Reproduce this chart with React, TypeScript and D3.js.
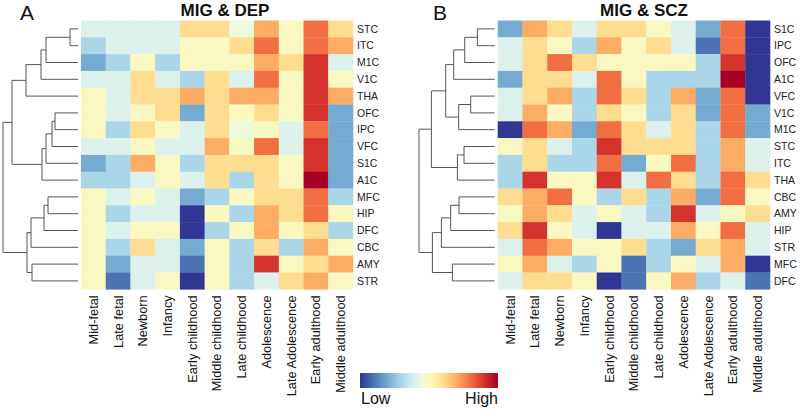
import * as d3 from "d3";

const stages = [
  "Mid-fetal",
  "Late fetal",
  "Newborn",
  "Infancy",
  "Early childhood",
  "Middle childhood",
  "Late childhood",
  "Adolescence",
  "Late Adolescence",
  "Early adulthood",
  "Middle adulthood",
];

// Panel A: MIG & DEP (values 0 = low ... 10 = high)
const regionsA = ["STC", "ITC", "M1C", "V1C", "THA", "OFC", "IPC", "VFC", "S1C", "A1C", "MFC", "HIP", "DFC", "CBC", "AMY", "STR"];
const valuesA = [
  [4, 4, 4, 4, 6, 6, 4.5, 7, 5, 8, 6],
  [3, 4, 4, 4, 5, 5, 6, 8, 5, 8, 7],
  [2, 3, 5, 3, 5, 5, 5, 7, 6, 9, 4],
  [4, 4, 6, 4, 3, 6, 4, 8, 5, 9, 5],
  [5, 4, 6, 6, 7, 6, 7, 7, 5, 9, 7],
  [5, 4, 5, 6, 2, 6, 5, 6, 5, 9, 2],
  [5, 3, 6, 5, 4, 6, 4.5, 5, 4, 8, 2],
  [4, 4, 5, 4, 4, 7, 5, 8, 4, 9, 2],
  [2, 3, 7, 5, 3, 6, 6, 6, 5, 9, 2],
  [3, 3, 4, 5, 4, 6, 3, 6, 5, 10, 2],
  [5, 4, 5, 4, 2, 3, 5, 6, 6, 8, 3],
  [5, 3, 4, 4, 0, 5, 3, 7, 6, 8, 5],
  [5, 4, 5, 5, 0, 3, 5, 7, 5, 6, 3],
  [5, 3, 6, 4, 2, 5, 3, 6, 3, 7, 5],
  [5, 2, 4, 4, 1, 5, 3, 9, 5, 6, 7],
  [5, 1, 4, 5, 0, 5, 3, 4, 6, 7, 5],
];
// [height, left, right]; a number is a leaf (row index)
const treeA = [75, [66, [52, [37, [32, [8, 0, 1], 2], 3], 4], [36, [32, [26, [23, 5, 6], 7], 8], 9]], [51, [47, [34, [30, 10, 11], 12], 13], [46, 14, 15]]];

// Panel B: MIG & SCZ
const regionsB = ["S1C", "IPC", "OFC", "A1C", "VFC", "V1C", "M1C", "STC", "ITC", "THA", "CBC", "AMY", "HIP", "STR", "MFC", "DFC"];
const valuesB = [
  [2, 7, 6, 4, 6, 6, 5, 4, 2, 8, 0],
  [4, 6, 5, 3, 7, 5, 6, 4, 1, 8, 0],
  [4, 6, 8, 6, 5, 5, 5, 5, 3, 9, 0],
  [2, 6, 6, 4, 8, 5, 3, 3, 3, 10, 0],
  [4, 6, 7, 3, 8, 6, 3, 7, 2, 8, 0],
  [4, 7, 5, 3, 6, 5, 3, 6, 2, 8, 2],
  [0, 8, 7, 2, 8, 6, 4, 6, 3, 8, 2],
  [5, 6, 4, 3, 9, 6, 6, 6, 3, 7, 4],
  [3, 6, 3, 3, 8, 2, 5, 8, 3, 7, 4],
  [3, 9, 5, 5, 9, 4, 8, 6, 3, 8, 6],
  [6, 7, 8, 5, 3, 6, 3, 7, 2, 8, 5],
  [5, 7, 6, 4, 5, 4, 3, 9, 4, 5, 6],
  [6, 9, 5, 4, 0, 4, 4, 7, 5, 8, 4],
  [4, 8, 7, 5, 5, 6, 3, 2, 6, 7, 4],
  [5, 7, 4, 3, 5, 1, 3, 5, 4, 7, 0],
  [4, 6, 6, 5, 0, 1, 5, 7, 3, 4, 1],
];
const treeB = [75.7, [63.3, [49, [41, [30, [17.3, 0, 1], 2], 3], [36, [24, 4, 5], 6]], [37.3, [30.7, 7, 8], 9]], [62.3, [53.3, [44, [35.7, 10, 11], 12], 13], [42.3, 14, 15]]];

const W = 800;
const H = 410;
const top = 20.5;
const bottom = 289.3;
const font = "'Liberation Sans', Arial, sans-serif";

const color = (v: number) => d3.interpolateRdYlBu(1 - v / 10);

type Seg = { x1: number; y1: number; x2: number; y2: number };

function Panel({
  letter,
  title,
  regions,
  values,
  tree,
  x0,
  x1,
  letterX,
  titleX,
}: {
  letter: string;
  title: string;
  regions: string[];
  values: number[][];
  tree: any;
  x0: number;
  x1: number;
  letterX: number;
  titleX: number;
}) {
  const xs = d3.scaleBand().domain(stages).range([x0, x1]);
  const ys = d3.scaleBand().domain(regions).range([top, bottom]);
  const leafX = x0 - 3;
  const hs = d3.scaleLinear().domain([0, 80]).range([leafX, leafX - 80]);

  // elbow dendrogram, parent sits halfway between its children
  const segs: Seg[] = [];
  const walk = (node: any): { x: number; y: number } => {
    if (typeof node === "number") {
      return { x: hs(0), y: (ys(regions[node]) as number) + ys.bandwidth() / 2 };
    }
    const [h, l, r] = node;
    const a = walk(l);
    const b = walk(r);
    const px = hs(h);
    segs.push({ x1: a.x, y1: a.y, x2: px, y2: a.y });
    segs.push({ x1: b.x, y1: b.y, x2: px, y2: b.y });
    segs.push({ x1: px, y1: a.y, x2: px, y2: b.y });
    return { x: px, y: (a.y + b.y) / 2 };
  };
  walk(tree);

  return (
    <g>
      <text x={letterX} y={20} fontSize={21} fontFamily={font} fill="#111">
        {letter}
      </text>
      <text x={titleX} y={16} fontSize={17} fontWeight="bold" textAnchor="middle" fontFamily={font} fill="#111">
        {title}
      </text>
      {segs.map((s, i) => (
        <line key={i} x1={s.x1} y1={s.y1} x2={s.x2} y2={s.y2} stroke="#555" strokeWidth={1} />
      ))}
      {values.map((row, ri) =>
        row.map((v, ci) => (
          <rect
            key={`${ri}-${ci}`}
            x={xs(stages[ci])}
            y={ys(regions[ri])}
            width={xs.bandwidth() + 0.3}
            height={ys.bandwidth() + 0.3}
            fill={color(v)}
          />
        ))
      )}
      {regions.map((r) => (
        <text
          key={r}
          x={x1 + 4}
          y={(ys(r) as number) + ys.bandwidth() / 2}
          dy="0.35em"
          fontSize={10.5}
          fontFamily={font}
          fill="#222"
        >
          {r}
        </text>
      ))}
      {stages.map((s) => {
        const cx = (xs(s) as number) + xs.bandwidth() / 2;
        const cy = bottom + 6;
        return (
          <text
            key={s}
            x={cx}
            y={cy}
            dy="0.35em"
            textAnchor="end"
            transform={`rotate(-90, ${cx}, ${cy})`}
            fontSize={12.8}
            fontFamily={font}
            fill="#111"
          >
            {s}
          </text>
        );
      })}
    </g>
  );
}

export default function App() {
  const legend = d3.range(0, 1.0001, 0.05);
  return (
    <svg width={W} height={H} style={{ position: "absolute", left: 0, top: 0, background: "#fff" }}>
      <defs>
        <linearGradient id="lg" x1="0" x2="1" y1="0" y2="0">
          {legend.map((t) => (
            <stop key={t} offset={t} stopColor={color(t * 10)} />
          ))}
        </linearGradient>
      </defs>
      <Panel letter="A" title="MIG & DEP" regions={regionsA} values={valuesA} tree={treeA} x0={81} x1={353} letterX={20} titleX={225} />
      <Panel letter="B" title="MIG & SCZ" regions={regionsB} values={valuesB} tree={treeB} x0={497.7} x1={770} letterX={433} titleX={644} />
      <rect x={360} y={373} width={138} height={15} fill="url(#lg)" />
      <text x={361} y={404} fontSize={16} fontFamily={font} fill="#111">
        Low
      </text>
      <text x={498} y={404} fontSize={16} textAnchor="end" fontFamily={font} fill="#111">
        High
      </text>
    </svg>
  );
}
